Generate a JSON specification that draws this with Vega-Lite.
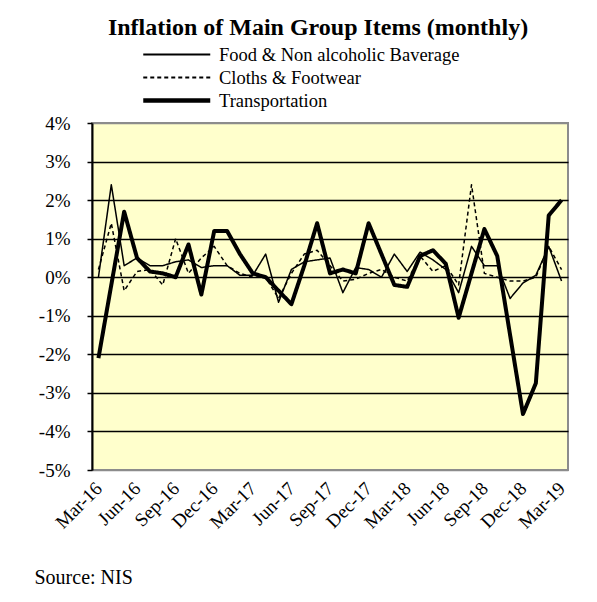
{
 "$schema": "https://vega.github.io/schema/vega-lite/v6.json",
 "width": 476,
 "height": 347,
 "autosize": {"type": "none"},
 "padding": {"left": 92, "top": 123, "right": 29, "bottom": 132},
 "background": "white",
 "title": {"text": "Inflation of Main Group Items (monthly)", "font": "Liberation Serif", "fontSize": 24, "fontWeight": "bold", "color": "black", "anchor": "middle", "dx": -12, "offset": 4},
 "config": {
  "view": {"fill": "#FFFFCC", "stroke": "#8c8c8c", "strokeWidth": 2},
  "axis": {"labelFont": "Liberation Serif", "labelFontSize": 19, "labelColor": "black", "titleFont": "Liberation Serif"}
 },
 "data": {"values": [
  {"month": "Mar-16", "Food & Non alcoholic Baverage": 0.0, "Cloths & Footwear": 0.2, "Transportation": -2.1},
  {"month": "Apr-16", "Food & Non alcoholic Baverage": 2.4, "Cloths & Footwear": 1.4, "Transportation": -0.2},
  {"month": "May-16", "Food & Non alcoholic Baverage": 0.3, "Cloths & Footwear": -0.35, "Transportation": 1.7},
  {"month": "Jun-16", "Food & Non alcoholic Baverage": 0.5, "Cloths & Footwear": 0.15, "Transportation": 0.5},
  {"month": "Jul-16", "Food & Non alcoholic Baverage": 0.3, "Cloths & Footwear": 0.2, "Transportation": 0.15},
  {"month": "Aug-16", "Food & Non alcoholic Baverage": 0.3, "Cloths & Footwear": -0.2, "Transportation": 0.1},
  {"month": "Sep-16", "Food & Non alcoholic Baverage": 0.4, "Cloths & Footwear": 1.0, "Transportation": 0.0},
  {"month": "Oct-16", "Food & Non alcoholic Baverage": 0.45, "Cloths & Footwear": 0.1, "Transportation": 0.85},
  {"month": "Nov-16", "Food & Non alcoholic Baverage": 0.25, "Cloths & Footwear": 0.5, "Transportation": -0.45},
  {"month": "Dec-16", "Food & Non alcoholic Baverage": 0.3, "Cloths & Footwear": 0.8, "Transportation": 1.2},
  {"month": "Jan-17", "Food & Non alcoholic Baverage": 0.3, "Cloths & Footwear": 0.3, "Transportation": 1.2},
  {"month": "Feb-17", "Food & Non alcoholic Baverage": 0.05, "Cloths & Footwear": 0.1, "Transportation": 0.6},
  {"month": "Mar-17", "Food & Non alcoholic Baverage": 0.05, "Cloths & Footwear": 0.0, "Transportation": 0.1},
  {"month": "Apr-17", "Food & Non alcoholic Baverage": 0.6, "Cloths & Footwear": 0.0, "Transportation": 0.0},
  {"month": "May-17", "Food & Non alcoholic Baverage": -0.65, "Cloths & Footwear": -0.55, "Transportation": -0.35},
  {"month": "Jun-17", "Food & Non alcoholic Baverage": 0.2, "Cloths & Footwear": 0.1, "Transportation": -0.7},
  {"month": "Jul-17", "Food & Non alcoholic Baverage": 0.4, "Cloths & Footwear": 0.6, "Transportation": 0.3},
  {"month": "Aug-17", "Food & Non alcoholic Baverage": 0.45, "Cloths & Footwear": 0.7, "Transportation": 1.4},
  {"month": "Sep-17", "Food & Non alcoholic Baverage": 0.5, "Cloths & Footwear": 0.3, "Transportation": 0.1},
  {"month": "Oct-17", "Food & Non alcoholic Baverage": -0.4, "Cloths & Footwear": -0.1, "Transportation": 0.2},
  {"month": "Nov-17", "Food & Non alcoholic Baverage": 0.25, "Cloths & Footwear": -0.05, "Transportation": 0.1},
  {"month": "Dec-17", "Food & Non alcoholic Baverage": 0.2, "Cloths & Footwear": 0.1, "Transportation": 1.4},
  {"month": "Jan-18", "Food & Non alcoholic Baverage": 0.0, "Cloths & Footwear": 0.2, "Transportation": 0.6},
  {"month": "Feb-18", "Food & Non alcoholic Baverage": 0.6, "Cloths & Footwear": 0.0, "Transportation": -0.2},
  {"month": "Mar-18", "Food & Non alcoholic Baverage": 0.15, "Cloths & Footwear": -0.1, "Transportation": -0.25},
  {"month": "Apr-18", "Food & Non alcoholic Baverage": 0.65, "Cloths & Footwear": 0.55, "Transportation": 0.55},
  {"month": "May-18", "Food & Non alcoholic Baverage": 0.45, "Cloths & Footwear": 0.15, "Transportation": 0.7},
  {"month": "Jun-18", "Food & Non alcoholic Baverage": 0.2, "Cloths & Footwear": 0.3, "Transportation": 0.35},
  {"month": "Jul-18", "Food & Non alcoholic Baverage": -0.4, "Cloths & Footwear": -0.2, "Transportation": -1.05},
  {"month": "Aug-18", "Food & Non alcoholic Baverage": 0.8, "Cloths & Footwear": 2.4, "Transportation": 0.1},
  {"month": "Sep-18", "Food & Non alcoholic Baverage": 0.3, "Cloths & Footwear": 0.1, "Transportation": 1.25},
  {"month": "Oct-18", "Food & Non alcoholic Baverage": 0.3, "Cloths & Footwear": 0.0, "Transportation": 0.55},
  {"month": "Nov-18", "Food & Non alcoholic Baverage": -0.55, "Cloths & Footwear": -0.1, "Transportation": -1.5},
  {"month": "Dec-18", "Food & Non alcoholic Baverage": -0.15, "Cloths & Footwear": -0.1, "Transportation": -3.55},
  {"month": "Jan-19", "Food & Non alcoholic Baverage": 0.05, "Cloths & Footwear": 0.0, "Transportation": -2.75},
  {"month": "Feb-19", "Food & Non alcoholic Baverage": 0.8, "Cloths & Footwear": 0.8, "Transportation": 1.6},
  {"month": "Mar-19", "Food & Non alcoholic Baverage": -0.1, "Cloths & Footwear": 0.2, "Transportation": 2.0}
 ]},
 "transform": [
  {"fold": ["Food & Non alcoholic Baverage", "Cloths & Footwear", "Transportation"], "as": ["series", "value"]}
 ],
 "mark": {"type": "line", "color": "black", "strokeJoin": "round"},
 "encoding": {
  "x": {
   "field": "month", "type": "ordinal", "sort": null,
   "scale": {"type": "point", "padding": 0.5},
   "axis": {
    "values": ["Mar-16", "Jun-16", "Sep-16", "Dec-16", "Mar-17", "Jun-17", "Sep-17", "Dec-17", "Mar-18", "Jun-18", "Sep-18", "Dec-18", "Mar-19"],
    "labelAngle": -45, "labelAlign": "right", "labelBaseline": "middle", "ticks": false, "domain": false, "grid": false, "labelPadding": 15,
    "title": "Source: NIS", "titleFontWeight": "normal", "titleFontSize": 20, "titleColor": "black",
    "titleAnchor": "start", "titleAlign": "left", "titleX": -58, "titleY": 113, "titleBaseline": "alphabetic"
   }
  },
  "y": {
   "field": "value", "type": "quantitative",
   "scale": {"domain": [-5, 4], "nice": false, "zero": false},
   "axis": {
    "values": [-5, -4, -3, -2, -1, 0, 1, 2, 3, 4],
    "labelExpr": "datum.value + '%'", "title": null,
    "grid": true,
    "gridColor": {"condition": {"test": "datum.value === 4 || datum.value === -5", "value": "#8c8c8c"}, "value": "black"},
    "gridWidth": 1.6,
    "domainColor": "black", "domainWidth": 2,
    "tickColor": "black", "tickSize": 5, "tickWidth": 1.5, "labelPadding": 17
   }
  },
  "strokeDash": {
   "field": "series", "type": "nominal",
   "scale": {"domain": ["Food & Non alcoholic Baverage", "Cloths & Footwear", "Transportation"], "range": [[1, 0], [4, 3], [1, 0]]},
   "legend": {
    "title": null, "orient": "none", "legendX": 51, "legendY": -79,
    "symbolType": "stroke", "symbolSize": 4489, "clipHeight": 21, "rowPadding": 2,
    "symbolOffset": 24.5,
    "labelFont": "Liberation Serif", "labelFontSize": 18.5, "labelColor": "black", "labelOffset": 33, "labelLimit": 500,
    "symbolStrokeColor": "black", "symbolStrokeWidth": 2, "padding": 0,
    "encode": {"symbols": {"update": {"strokeWidth": {"signal": "datum.value === 'Transportation' ? 4.5 : 2"}}}}
   }
  },
  "strokeWidth": {"condition": {"test": "datum.series === 'Transportation'", "value": 4}, "value": 1.5}
 }
}
